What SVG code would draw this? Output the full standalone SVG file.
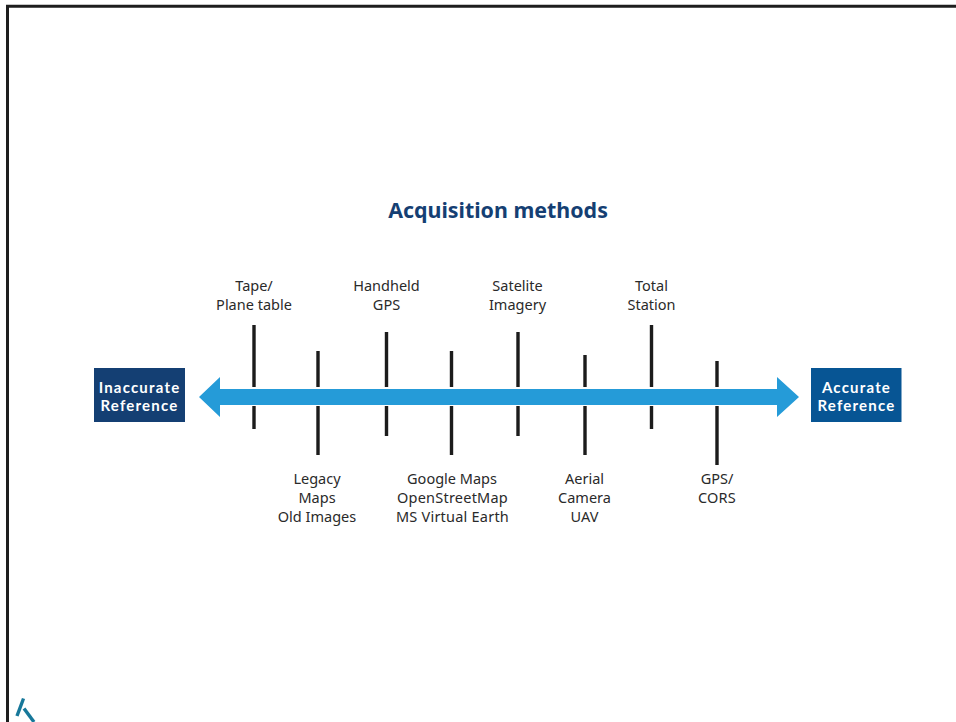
<svg xmlns="http://www.w3.org/2000/svg" width="956" height="722" viewBox="0 0 956 722">
<style>
text{font-family:"Noto Sans","Open Sans",sans-serif;text-anchor:middle}
.l{font-size:14.5px;fill:#2a2a2a}
.w{letter-spacing:.22px}
.b{font-family:Lato,"Noto Sans",sans-serif;font-size:15px;font-weight:700;letter-spacing:1.2px;fill:#fff}
.t{font-size:21.4px;font-weight:700;fill:#153f73}
.tick{stroke:#1c1c1c;stroke-width:3.4;fill:none}
</style>
<rect width="956" height="722" fill="#fff"/>
<g id="frame"><path d="M956 6.200H7.500V722" fill="none" stroke="#1e1e1e" stroke-width="3"/></g>
<g id="logo"><path d="M23.500 698.500L17 716" fill="none" stroke="#17789a" stroke-width="3.400"/><path d="M24 708.500L34 722" fill="none" stroke="#17789a" stroke-width="3.400"/></g>
<text class="t" x="498" y="218">Acquisition methods</text>
<g id="connectors">
<path class="tick" d="M254 325V387M254 406V429"/>
<path class="tick" d="M318 351V387M318 406V455"/>
<path class="tick" d="M386.500 332V387M386.500 406V436"/>
<path class="tick" d="M451.500 351V387M451.500 406V455"/>
<path class="tick" d="M518 332V387M518 406V436"/>
<path class="tick" d="M585 355V387M585 406V455"/>
<path class="tick" d="M651.500 325V387M651.500 406V429"/>
<path class="tick" d="M717 361V387M717 406V465"/>
<path fill="#259bd8" d="M199 397L220 377V389H777V377L799 397L777 417V405H220V417Z"/>
</g>
<g id="inaccurate"><rect x="94" y="368" width="91" height="54" fill="#143f73"/><text class="b" x="139.500" y="392.500">Inaccurate</text><text class="b" x="139.500" y="410.500">Reference</text></g>
<g id="accurate"><rect x="811" y="368" width="90.500" height="54" fill="#075594"/><text class="b" x="856.500" y="392.500">Accurate</text><text class="b" x="856.500" y="410.500">Reference</text></g>
<g id="tape"><text class="l" x="254" y="291">Tape/</text><text class="l" x="254" y="310">Plane table</text></g>
<g id="handheld"><text class="l" x="386.500" y="291">Handheld</text><text class="l" x="386.500" y="310">GPS</text></g>
<g id="satelite"><text class="l" x="517.500" y="291">Satelite</text><text class="l" x="517.500" y="310">Imagery</text></g>
<g id="total"><text class="l" x="651.500" y="291">Total</text><text class="l" x="651.500" y="310">Station</text></g>
<g id="legacy"><text class="l" x="317" y="484">Legacy</text><text class="l" x="317" y="503">Maps</text><text class="l" x="317" y="522">Old Images</text></g>
<g id="google"><text class="l" x="452" y="484">Google Maps</text><text class="l w" x="452.500" y="503">OpenStreetMap</text><text class="l w" x="452.500" y="522">MS Virtual Earth</text></g>
<g id="aerial"><text class="l" x="584.500" y="484">Aerial</text><text class="l" x="584.500" y="503">Camera</text><text class="l" x="584.500" y="522">UAV</text></g>
<g id="gps"><text class="l" x="717" y="484">GPS/</text><text class="l w" x="717" y="503">CORS</text></g>
</svg>
